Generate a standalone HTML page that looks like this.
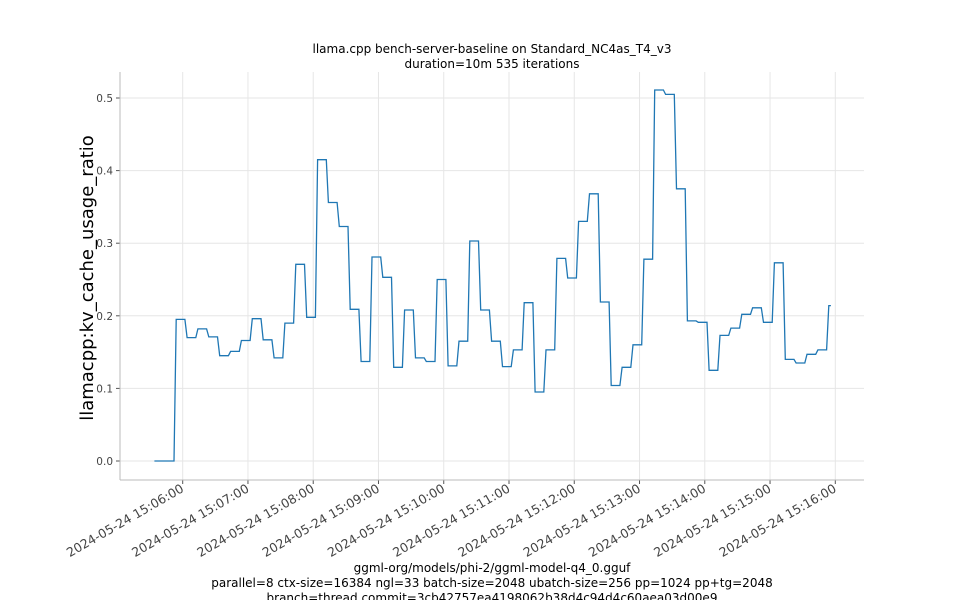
<!DOCTYPE html>
<html><head><meta charset="utf-8"><style>
body{margin:0;background:#fff;}
svg{display:block;font-family:"DejaVu Sans","Liberation Sans",sans-serif;}
</style></head><body>
<svg id="chart" width="960" height="600" viewBox="0 0 960 600">
<text x="492" y="53" text-anchor="middle" font-size="12">llama.cpp bench-server-baseline on Standard_NC4as_T4_v3</text>
<text x="492" y="68" text-anchor="middle" font-size="12">duration=10m 535 iterations</text>
<g id="grid"></g>
<g id="yticks"></g>
<g id="xticks"></g>
<line x1="120" y1="72" x2="120" y2="480" stroke="#bbb" stroke-width="1"/>
<line x1="120" y1="480" x2="864" y2="480" stroke="#bbb" stroke-width="1"/>
<path id="series" fill="none" stroke="#1f77b4" stroke-width="1.3"/>
<text transform="translate(93,278) rotate(-90)" text-anchor="middle" font-size="18">llamacpp:kv_cache_usage_ratio</text>
<text x="492" y="572" text-anchor="middle" font-size="12">ggml-org/models/phi-2/ggml-model-q4_0.gguf</text>
<text x="492" y="587" text-anchor="middle" font-size="12">parallel=8 ctx-size=16384 ngl=33 batch-size=2048 ubatch-size=256 pp=1024 pp+tg=2048</text>
<text x="492" y="602" text-anchor="middle" font-size="12">branch=thread commit=3cb42757ea4198062b38d4c94d4c60aea03d00e9</text>
</svg>
<script>
// times: seconds since 15:05:00
const zeroTimes = [34, 52];
const zeroValues = [0, 0];
const stepTimes = [54,64,74,84,94,104,114,124,134,144,154,164,174,184,194,204,214,224,234,244,254,264,274,284,294,304,314,324,334,344,354,364,374,384,394,404,414,424,434,444,454,464,474,484,494,504,514,524,534,544,554,564,574,584,594,604,614,624,634,644,654];
const stepValues = [0.195,0.17,0.182,0.171,0.145,0.151,0.166,0.196,0.167,0.142,0.19,0.271,0.198,0.415,0.356,0.323,0.209,0.137,0.281,0.253,0.129,0.208,0.142,0.137,0.25,0.131,0.165,0.303,0.208,0.165,0.13,0.153,0.218,0.095,0.153,0.279,0.252,0.33,0.368,0.219,0.104,0.129,0.16,0.278,0.511,0.505,0.375,0.193,0.191,0.125,0.173,0.183,0.202,0.211,0.191,0.273,0.14,0.135,0.147,0.153,0.214];
const yTicks = [0, 0.1, 0.2, 0.3, 0.4, 0.5];
const yTickLabels = ["0.0","0.1","0.2","0.3","0.4","0.5"];
const xTicks = [60,120,180,240,300,360,420,480,540,600,660];
const xTickLabels = ["2024-05-24 15:06:00","2024-05-24 15:07:00","2024-05-24 15:08:00","2024-05-24 15:09:00","2024-05-24 15:10:00","2024-05-24 15:11:00","2024-05-24 15:12:00","2024-05-24 15:13:00","2024-05-24 15:14:00","2024-05-24 15:15:00","2024-05-24 15:16:00"];

const NS = "http://www.w3.org/2000/svg";
function xs(t){ return 182.7 + (t - 60) * (65.26 / 60); }
function ys(v){ return 461 - v * 726; }
function mk(tag, attrs, parent){ const e = document.createElementNS(NS, tag); for (const k in attrs) e.setAttribute(k, attrs[k]); parent.appendChild(e); return e; }

const grid = document.getElementById('grid');
const yg = document.getElementById('yticks');
const xg = document.getElementById('xticks');
yTicks.forEach((v, i) => {
  const y = ys(v);
  const gl = mk('line', {x1:120, x2:864, y1:y, y2:y, stroke:'#e6e6e6', 'stroke-width':1}, grid);
  
  
  const tk = mk('line', {x1:116, x2:120, y1:y, y2:y, stroke:'#555'}, yg);
  
  
  const tx = mk('text', {x:113, y:y+4, 'text-anchor':'end', 'font-size':10.5, fill:'#444'}, yg);
  
  
  tx.textContent = yTickLabels[i];
});
xTicks.forEach((t, i) => {
  const x = xs(t);
  const gl = mk('line', {x1:x, x2:x, y1:72, y2:480, stroke:'#e6e6e6', 'stroke-width':1}, grid);
  
  
  const tk = mk('line', {x1:x, x2:x, y1:480, y2:484, stroke:'#555'}, xg);
  
  
  const tx = mk('text', {transform:`translate(${x+2},${491}) rotate(-30)`, 'text-anchor':'end', 'font-size':12.5, fill:'#444'}, xg);
  
  
  tx.textContent = xTickLabels[i];
});

const pts = [];
zeroTimes.forEach((t, i) => pts.push([xs(t), ys(zeroValues[i])]));
stepTimes.forEach((t, i) => {
  const last = i === stepTimes.length - 1;
  pts.push([xs(t), ys(stepValues[i])]);
  pts.push([xs(t + (last ? 2 : 8)), ys(stepValues[i])]);
});
document.getElementById('series').setAttribute('d', 'M' + pts.map(p => p[0].toFixed(1) + ',' + p[1].toFixed(1)).join('L'));
</script>
</body></html>
